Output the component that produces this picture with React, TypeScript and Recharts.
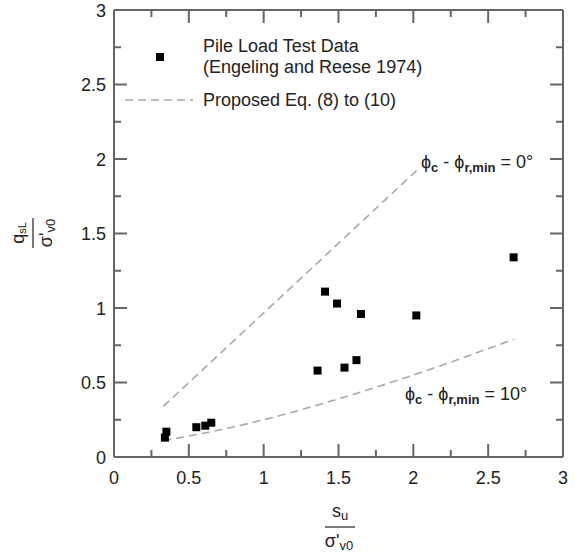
import React from 'react';
import { ComposedChart, Scatter, Line, XAxis, YAxis, Legend, Customized } from 'recharts';

// Pile load test data (Engeling and Reese 1974)
const pileSuRatio = [0.34, 0.35, 0.55, 0.61, 0.65, 1.36, 1.41, 1.49, 1.54, 1.62, 1.65, 2.02, 2.67];
const pileQsRatio = [0.13, 0.17, 0.2, 0.21, 0.23, 0.58, 1.11, 1.03, 0.6, 0.65, 0.96, 0.95, 1.34];

// Proposed Eq. (8) to (10), phi_c - phi_r,min = 0 deg
const eq0SuRatio = [0.33, 2.03];
const eq0QsRatio = [0.34, 1.93];

// Proposed Eq. (8) to (10), phi_c - phi_r,min = 10 deg
const eq10SuRatio = [0.33, 0.6, 1.0, 1.5, 2.0, 2.67];
const eq10QsRatio = [0.11, 0.16, 0.25, 0.39, 0.55, 0.79];

const majorTicks = [0, 0.5, 1, 1.5, 2, 2.5, 3];
const majorTickLabels = ['0', '0.5', '1', '1.5', '2', '2.5', '3'];
const minorTicks = [0.25, 0.75, 1.25, 1.75, 2.25, 2.75];

const legendDataLines = ['Pile Load Test Data', '(Engeling and Reese 1974)'];
const legendEqLabel = 'Proposed Eq. (8) to (10)';

const FONT = '"Liberation Sans", Arial, Helvetica, sans-serif';
const TEXT = '#222222';
const FRAME = '#666666';
const DASH = '#a9a9a9';

const allTicks = [...majorTicks, ...minorTicks].sort((a, b) => a - b);
const pileData = pileSuRatio.map((x, i) => ({ x, y: pileQsRatio[i] }));
const eq0Data = eq0SuRatio.map((x, i) => ({ x, y: eq0QsRatio[i] }));
const eq10Data = eq10SuRatio.map((x, i) => ({ x, y: eq10QsRatio[i] }));

const MAJOR_LEN = 13;
const MINOR_LEN = 7;

const labelFor = (v: number) => {
  const i = majorTicks.indexOf(v);
  return i >= 0 ? majorTickLabels[i] : null;
};

const tickLen = (v: number) => (labelFor(v) !== null ? MAJOR_LEN : MINOR_LEN);

const BottomTick = (p: any) => {
  const v = p.payload.value;
  const lbl = labelFor(v);
  return (
    <g>
      <line x1={p.x} y1={p.y} x2={p.x} y2={p.y - tickLen(v)} stroke={FRAME} strokeWidth={2} />
      {lbl !== null && (
        <text x={p.x} y={p.y + 27} textAnchor="middle" fontFamily={FONT} fontSize={18} fill={TEXT}>
          {lbl}
        </text>
      )}
    </g>
  );
};

const LeftTick = (p: any) => {
  const v = p.payload.value;
  const lbl = labelFor(v);
  return (
    <g>
      <line x1={p.x} y1={p.y} x2={p.x + tickLen(v)} y2={p.y} stroke={FRAME} strokeWidth={2} />
      {lbl !== null && (
        <text x={p.x - 8} y={p.y + 6.5} textAnchor="end" fontFamily={FONT} fontSize={18} fill={TEXT}>
          {lbl}
        </text>
      )}
    </g>
  );
};

const TopTick = (p: any) => (
  <line x1={p.x} y1={p.y} x2={p.x} y2={p.y + tickLen(p.payload.value)} stroke={FRAME} strokeWidth={2} />
);

const RightTick = (p: any) => (
  <line x1={p.x} y1={p.y} x2={p.x - tickLen(p.payload.value)} y2={p.y} stroke={FRAME} strokeWidth={2} />
);

const LegendBox = () => (
  <svg width={575} height={120} style={{ display: 'block' }}>
    <rect x={156} y={53} width={8} height={8} fill="#000" />
    <text x={203} y={52} fontFamily={FONT} fontSize={18} fill={TEXT}>{legendDataLines[0]}</text>
    <text x={203} y={73} fontFamily={FONT} fontSize={18} fill={TEXT}>{legendDataLines[1]}</text>
    <line x1={125} y1={100} x2={193} y2={100} stroke={DASH} strokeWidth={1.6} strokeDasharray="8 5" />
    <text x={203} y={106} fontFamily={FONT} fontSize={18} fill={TEXT}>{legendEqLabel}</text>
  </svg>
);

const PhiLabel = ({ x, y, deg }: { x: number; y: number; deg: string }) => (
  <text x={x} y={y} fontFamily={FONT} fontSize={18} fill={TEXT}>
    ϕ
    <tspan fontSize={13} fontWeight="bold" dy={4}>c</tspan>
    <tspan dy={-4}> - ϕ</tspan>
    <tspan fontSize={13} fontWeight="bold" dy={4}>r,min</tspan>
    <tspan dy={-4}>{` = ${deg}°`}</tspan>
  </text>
);

const AxisTitles = () => (
  <g fontFamily={FONT} fill={TEXT}>
    {/* x-axis: s_u / sigma'_v0 */}
    <text x={340} y={517} textAnchor="middle" fontSize={18}>
      s<tspan fontSize={13} dy={3}>u</tspan>
    </text>
    <line x1={325} y1={527} x2={355} y2={527} stroke={TEXT} strokeWidth={1.2} />
    <text x={339} y={547} textAnchor="middle" fontSize={18}>
      σ'<tspan fontSize={13} dy={3}>v0</tspan>
    </text>
    {/* y-axis: q_sL / sigma'_v0 */}
    <g transform="translate(33,233) rotate(-90)">
      <text x={0} y={-9} textAnchor="middle" fontSize={18}>
        q<tspan fontSize={11} dy={2}>sL</tspan>
      </text>
      <line x1={-15} y1={0} x2={15} y2={0} stroke={TEXT} strokeWidth={1.2} />
      <text x={0} y={19} textAnchor="middle" fontSize={18}>
        σ'<tspan fontSize={13} dy={3}>v0</tspan>
      </text>
    </g>
    <PhiLabel x={421} y={168} deg="0" />
    <PhiLabel x={405} y={400} deg="10" />
  </g>
);

const axisCommon = {
  type: 'number' as const,
  domain: [0, 3],
  allowDataOverflow: true,
  ticks: allTicks,
  interval: 0 as const,
  tickLine: false,
  tickSize: 0,
  tickMargin: 0,
  axisLine: { stroke: FRAME, strokeWidth: 2 },
};

export default function App() {
  return (
    <div style={{ position: 'absolute', left: 0, top: 0 }}>
      <ComposedChart width={575} height={556} margin={{ top: 0, right: 0, bottom: 0, left: 0 }}>
        <XAxis xAxisId={0} dataKey="x" orientation="bottom" height={99} tick={BottomTick} {...axisCommon} />
        <XAxis xAxisId="top" dataKey="x" orientation="top" height={10} tick={TopTick} {...axisCommon} />
        <YAxis yAxisId={0} dataKey="y" orientation="left" width={114} tick={LeftTick} {...axisCommon} />
        <YAxis yAxisId="right" dataKey="y" orientation="right" width={12} tick={RightTick} {...axisCommon} />
        <Legend
          layout="horizontal"
          verticalAlign="middle"
          align="center"
          content={LegendBox}
          wrapperStyle={{ left: 0, top: 0, width: 575, height: 120, margin: 0, padding: 0, lineHeight: 0 }}
        />
        <Line
          data={eq0Data}
          dataKey="y"
          type="linear"
          name={legendEqLabel}
          stroke={DASH}
          strokeWidth={1.6}
          strokeDasharray="8 5"
          dot={false}
          activeDot={false}
          isAnimationActive={false}
        />
        <Line
          data={eq10Data}
          dataKey="y"
          type="monotone"
          legendType="none"
          stroke={DASH}
          strokeWidth={1.6}
          strokeDasharray="8 5"
          dot={false}
          activeDot={false}
          isAnimationActive={false}
        />
        <Scatter
          data={pileData}
          dataKey="y"
          name={legendDataLines.join(' ')}
          shape="square"
          fill="#000000"
          isAnimationActive={false}
        />
        <Customized component={AxisTitles} />
      </ComposedChart>
    </div>
  );
}
